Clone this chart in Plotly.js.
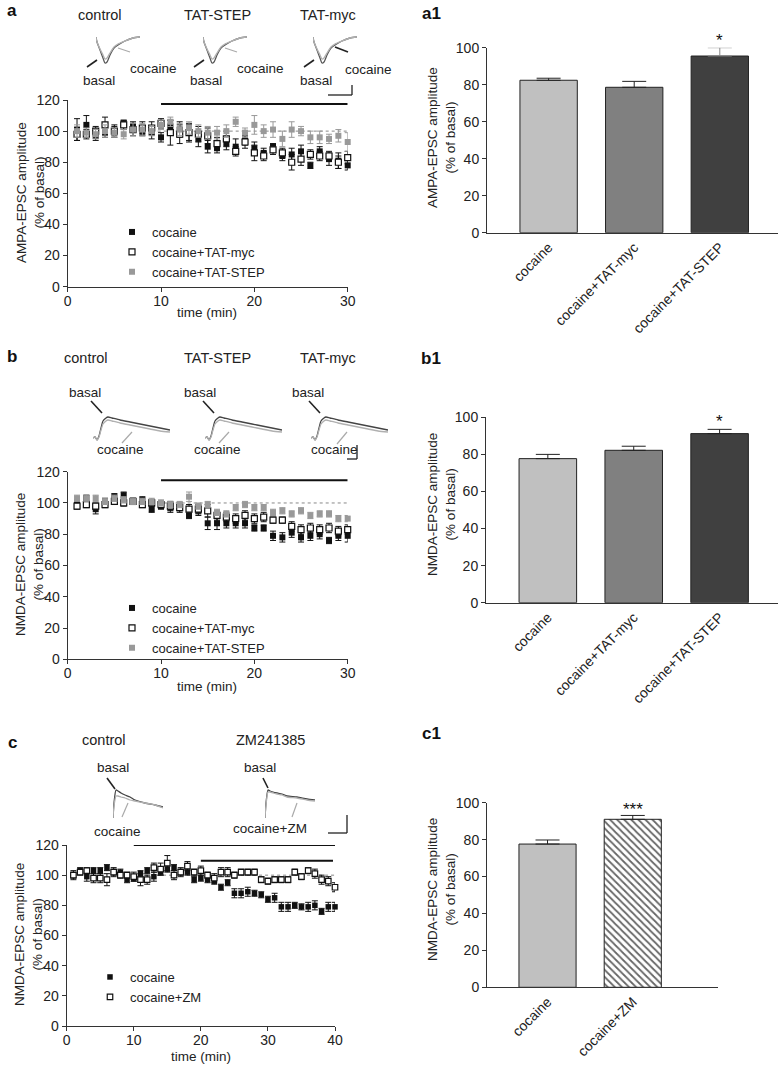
<!DOCTYPE html>
<html><head><meta charset="utf-8">
<script src="https://cdn.plot.ly/plotly-3.0.1.min.js"></script>
<style>html,body{margin:0;padding:0;background:#fff}#chart{width:779px;height:1067px}</style>
</head><body><div id="chart"></div>
<script>
// ---------------- DATA ----------------
const timeAB = [1,2,3,4,5,6,7,8,9,10,11,12,13,14,15,16,17,18,19,20,21,22,23,24,25,26,27,28,29,30];
const timeC = [1,2,3,4,5,6,7,8,9,10,11,12,13,14,15,16,17,18,19,20,21,22,23,24,25,26,27,28,29,30,31,32,33,34,35,36,37,38,39,40];

// panel a : AMPA-EPSC (% of basal)
const aCocaine    = [101,104,97,99,100,105,103,100,99,96, 103,101,99,95,90,89,92,90,94,89, 86,90,84,85,87,78,87,82,81,78];
const aCocaineErr = [7,6,3,3,4,2,3,3,4,3, 4,5,6,5,4,3,4,5,3,4, 3,2,3,4,4,2,3,4,5,3];
const aTatMyc     = [98,98,100,104,100,104,101,102,102,105, 99,98,99,98,97,92,95,87,93,86, 84,88,86,80,82,85,84,84,80,83];
const aTatMycErr  = [4,3,3,5,3,3,4,4,4,3, 8,6,5,5,5,4,5,3,4,5, 3,3,3,5,4,3,3,3,4,4];
const aTatStep    = [100,99,98,100,99,98,101,101,100,104, 106,101,102,100,99,99,100,106,99,104, 100,101,95,101,100,96,96,95,97,93];
const aTatStepErr = [4,3,3,4,3,3,4,4,3,3, 3,4,4,4,4,4,4,3,3,6, 4,5,5,5,3,4,4,3,4,6];

// panel b : NMDA-EPSC (% of basal)
const bCocaine    = [100,103,96,101,104,105,101,102,96,98, 97,97,92,95,87,87,87,87,87,84, 84,79,78,81,78,79,80,76,79,79];
const bCocaineErr = [2,2,3,2,2,2,2,2,2,2, 3,3,2,3,4,4,3,3,3,2, 2,3,3,3,3,3,3,2,3,4];
const bTatMyc     = [98,99,98,99,101,100,101,99,100,99, 98,97,96,96,95,92,91,90,92,90, 91,89,89,85,83,84,83,84,82,83];
const bTatMycErr  = [2,2,2,2,2,2,2,2,2,2, 3,2,3,3,4,3,3,3,3,3, 3,2,2,3,3,3,3,3,3,3];
const bTatStep    = [103,103,103,101,103,102,101,101,101,100, 99,99,104,98,99,94,93,97,99,97, 97,94,95,93,95,92,93,93,90,90];
const bTatStepErr = [2,2,2,2,2,2,2,2,2,2, 2,2,3,2,2,2,2,2,2,2, 2,2,2,2,2,2,2,2,2,2];

// panel c : NMDA-EPSC (% of basal)
const cCocaine    = [100,103,99,103,103,105,102,102,97,98, 101,103,99,102,104,105,102,102,97,98, 97,96,92,95,88,88,89,88,87,84, 85,79,79,80,79,79,80,76,79,79];
const cCocaineErr = [2,2,3,2,2,2,2,2,2,2, 2,2,3,2,2,2,2,2,2,2, 2,2,2,2,3,3,3,2,2,2, 3,3,3,2,2,3,3,2,3,3];
const cZM         = [100,102,103,98,98,97,102,100,100,99, 97,97,105,104,108,100,102,106,102,103, 100,98,102,102,100,102,102,102,97,96, 97,97,97,102,99,103,101,97,96,92];
const cZMErr      = [3,2,2,3,3,4,3,2,2,3, 4,3,3,4,5,3,3,3,2,3, 2,3,3,3,2,2,2,2,2,2, 2,2,2,2,2,2,3,3,3,3];

// drug application periods (min) and baseline
const drugA = [10, 30];
const drugB = [10, 30];
const drugC1 = [10, 40];
const drugC2 = [20, 39.7];
const BASELINE = 100;

// bar charts (mean, s.e.m.)
const barCats3 = ['cocaine', 'cocaine+TAT-myc', 'cocaine+TAT-STEP'];
const a1Mean = [82.4, 78.6, 95.5];
const a1Sem  = [1.1, 3.2, 4.5];
const b1Mean = [77.7, 82.2, 91.2];
const b1Sem  = [2.3, 2.2, 2.3];
const barCats2 = ['cocaine', 'cocaine+ZM'];
const c1Mean = [77.6, 91.0];
const c1Sem  = [2.2, 2.1];

// example traces (ms, pA, arbitrary scale)
const ampaT       = [0, 1, 4, 7, 9, 11, 14, 18, 22, 29, 37, 44];
const ampaBasal   = [0, -5, -13, -21, -26, -25, -18, -11, -8, -4, -1, 0];
const ampaCocaine = [0, -5, -12, -18, -22, -21, -16, -10, -7, -4, -1, 0];
const nmdaT       = [0, 2, 4, 6, 8, 10, 13, 15, 19, 27, 37, 47, 57, 67, 77];
const nmdaBasal   = [0, 1, -2, 2, 10, 17, 20, 21, 20, 18, 16, 14, 12, 10, 8];
const nmdaCocaine = [0, 1, -2, 1, 8, 14, 17, 18, 17, 15, 13, 11, 9, 7, 6];
const nmdaCT       = [0, 1, 3, 5, 8, 12, 17, 22, 32, 42, 50];
const nmdaCBasal   = [0, 15, 28, 27, 25, 23, 21, 18, 15, 13, 11];
const nmdaCCocaine = [0, 12, 22, 22, 21, 20, 18, 17, 15, 13, 10];
const zmBasal      = [0, 15, 28, 27, 26, 25, 24, 22, 21, 19, 18];
const zmCocaine    = [0, 13, 26, 26, 25, 24, 23, 21, 20, 18, 17];

// ---------------- LAYOUT HELPERS ----------------
const W = 779, H = 1067;
const fx = p => p / W;
const fy = p => 1 - p / H;
const FONT = 'Liberation Sans, Arial, Helvetica, sans-serif';
const TXT = '#222';

function realAxis(domain, range, anchor, tickvals, extra) {
  return Object.assign({
    domain, range, anchor, tickvals, showline: true, linecolor: '#333', linewidth: 1,
    ticks: 'outside', ticklen: 4, tickwidth: 1, tickcolor: '#333', showgrid: false, zeroline: false,
    tickfont: {family: FONT, size: 14, color: TXT}, fixedrange: true
  }, extra || {});
}
function insetAxis(domain, range, anchor) {
  return {domain, range, anchor, visible: false, fixedrange: true, showgrid: false, zeroline: false};
}
const xTickExtra = {ticklabelstandoff: -3};
const legendBase = {xanchor: 'left', yanchor: 'top', bgcolor: 'rgba(0,0,0,0)', font: {family: FONT, size: 13, color: TXT}};

const layout = {
  width: W, height: H, margin: {l: 0, r: 0, t: 0, b: 0},
  paper_bgcolor: '#fff', plot_bgcolor: 'rgba(0,0,0,0)',
  font: {family: FONT, size: 13, color: TXT},
  showlegend: true,
  // time courses
  xaxis:  realAxis([fx(67.7), fx(347.7)], [0, 30], 'y',  [0, 10, 20, 30], xTickExtra),
  yaxis:  realAxis([fy(286.7), fy(100)], [0, 120], 'x',  [0, 20, 40, 60, 80, 100, 120]),
  xaxis2: realAxis([fx(67.7), fx(347.7)], [0, 30], 'y2', [0, 10, 20, 30], xTickExtra),
  yaxis2: realAxis([fy(659.3), fy(471.7)], [0, 120], 'x2', [0, 20, 40, 60, 80, 100, 120]),
  xaxis3: realAxis([fx(66.7), fx(335)], [0, 40], 'y3', [0, 10, 20, 30, 40], xTickExtra),
  yaxis3: realAxis([fy(1026), fy(845)], [0, 120], 'x3', [0, 20, 40, 60, 80, 100, 120]),
  // bar charts
  xaxis4: realAxis([fx(487), fx(778)], [-0.72, 2.68], 'y4', undefined, {type: 'category', ticks: '', tickangle: -45}),
  yaxis4: realAxis([fy(232.7), fy(47.7)], [0, 100], 'x4', [0, 20, 40, 60, 80, 100]),
  xaxis5: realAxis([fx(486), fx(778)], [-0.72, 2.68], 'y5', undefined, {type: 'category', ticks: '', tickangle: -45}),
  yaxis5: realAxis([fy(602.7), fy(417.3)], [0, 100], 'x5', [0, 20, 40, 60, 80, 100]),
  xaxis6: realAxis([fx(487), fx(718)], [-0.71, 2.0], 'y6', undefined, {type: 'category', ticks: '', tickangle: -45}),
  yaxis6: realAxis([fy(987.3), fy(802.7)], [0, 100], 'x6', [0, 20, 40, 60, 80, 100]),
  legend:  Object.assign({x: fx(112), y: fy(217)}, legendBase),
  legend2: Object.assign({x: fx(112), y: fy(593)}, legendBase),
  legend3: Object.assign({x: fx(90), y: fy(962)}, legendBase),
  shapes: [], annotations: []
};

// inset axes for example traces
const ampaStarts = [96, 203, 313];
const nmdaStarts = [93, 205, 311];
const cStarts = [113, 265];
let axN = 7;
const insetRefs = {ampa: [], nmda: [], c: []};
ampaStarts.forEach(s => {
  layout['xaxis' + axN] = insetAxis([fx(s), fx(s + 44)], [0, 44], 'y' + axN);
  layout['yaxis' + axN] = insetAxis([fy(65), fy(35)], [-28, 2], 'x' + axN);
  insetRefs.ampa.push(axN); axN++;
});
nmdaStarts.forEach(s => {
  layout['xaxis' + axN] = insetAxis([fx(s), fx(s + 77)], [0, 77], 'y' + axN);
  layout['yaxis' + axN] = insetAxis([fy(441), fy(415)], [-3, 23], 'x' + axN);
  insetRefs.nmda.push(axN); axN++;
});
cStarts.forEach(s => {
  layout['xaxis' + axN] = insetAxis([fx(s), fx(s + 50)], [0, 50], 'y' + axN);
  layout['yaxis' + axN] = insetAxis([fy(819), fy(788)], [-1, 30], 'x' + axN);
  insetRefs.c.push(axN); axN++;
});

// ---------------- TRACES ----------------
const traces = [];
function series(x, y, err, name, xa, ya, legend, kind, size) {
  const col = kind === 'gray' ? '#999' : '#111';
  const marker = kind === 'open'
    ? {symbol: 'square', size: size, color: '#fff', line: {color: '#111', width: 1.2}}
    : {symbol: 'square', size: size, color: col, line: {width: 0}};
  traces.push({
    type: 'scatter', mode: 'markers', x, y, name, xaxis: xa, yaxis: ya, legend,
    marker, cliponaxis: false,
    error_y: {type: 'data', array: err, visible: true, color: kind === 'gray' ? '#999' : '#111', thickness: 1, width: 3}
  });
}
series(timeAB, aCocaine, aCocaineErr, 'cocaine', 'x', 'y', 'legend', 'black', 6);
series(timeAB, aTatMyc, aTatMycErr, 'cocaine+TAT-myc', 'x', 'y', 'legend', 'open', 6);
series(timeAB, aTatStep, aTatStepErr, 'cocaine+TAT-STEP', 'x', 'y', 'legend', 'gray', 6);
series(timeAB, bCocaine, bCocaineErr, 'cocaine', 'x2', 'y2', 'legend2', 'black', 6);
series(timeAB, bTatMyc, bTatMycErr, 'cocaine+TAT-myc', 'x2', 'y2', 'legend2', 'open', 6);
series(timeAB, bTatStep, bTatStepErr, 'cocaine+TAT-STEP', 'x2', 'y2', 'legend2', 'gray', 6);
series(timeC, cCocaine, cCocaineErr, 'cocaine', 'x3', 'y3', 'legend3', 'black', 5.5);
series(timeC, cZM, cZMErr, 'cocaine+ZM', 'x3', 'y3', 'legend3', 'open', 5.5);

// one bar trace per category so each can carry its own fill / pattern
function bars(cats, mean, sem, xa, ya, colors, patterns, errColors) {
  cats.forEach((c, i) => {
    const marker = {color: colors[i], line: {color: '#222', width: 1}};
    if (patterns && patterns[i]) marker.pattern = patterns[i];
    traces.push({
      type: 'bar', x: [c], y: [mean[i]], xaxis: xa, yaxis: ya, width: 0.67, showlegend: false, cliponaxis: false,
      marker,
      error_y: {type: 'data', array: [sem[i]], arrayminus: [0], symmetric: false,
        color: errColors ? errColors[i] : '#222', thickness: 1, width: 12}
    });
  });
}
bars(barCats3, a1Mean, a1Sem, 'x4', 'y4', ['#c0c0c0', '#808080', '#404040'], null, ['#222', '#222', '#888']);
bars(barCats3, b1Mean, b1Sem, 'x5', 'y5', ['#c0c0c0', '#808080', '#404040']);
bars(barCats2, c1Mean, c1Sem, 'x6', 'y6', ['#c0c0c0', '#ffffff'],
  [null, {shape: '\\', fgcolor: '#666', bgcolor: '#ffffff', size: 5, solidity: 0.35, fillmode: 'replace'}]);

function trace(t, v, n, color) {
  traces.push({type: 'scatter', mode: 'lines', x: t, y: v, xaxis: 'x' + n, yaxis: 'y' + n,
    showlegend: false, line: {color, width: 1.3, shape: 'spline', smoothing: 0.6}, cliponaxis: false, hoverinfo: 'skip'});
}
insetRefs.ampa.forEach(n => { trace(ampaT, ampaBasal, n, '#555'); trace(ampaT, ampaCocaine, n, '#b0b0b0'); });
insetRefs.nmda.forEach(n => { trace(nmdaT, nmdaBasal, n, '#444'); trace(nmdaT, nmdaCocaine, n, '#b0b0b0'); });
trace(nmdaCT, nmdaCBasal, insetRefs.c[0], '#444'); trace(nmdaCT, nmdaCCocaine, insetRefs.c[0], '#b0b0b0');
trace(nmdaCT, zmBasal, insetRefs.c[1], '#444'); trace(nmdaCT, zmCocaine, insetRefs.c[1], '#b0b0b0');

// ---------------- SHAPES ----------------
const S = layout.shapes;
function dline(xr, yr, x0, x1, y, opts) {
  S.push(Object.assign({type: 'line', xref: xr, yref: yr, x0, x1, y0: y, y1: y, layer: 'below'}, opts));
}
dline('x', 'y', 9, 32.3, BASELINE, {line: {color: '#888', width: 1, dash: 'dot'}});
dline('x2', 'y2', 9, 30.2, BASELINE, {line: {color: '#888', width: 1, dash: 'dot'}});
dline('x3', 'y3', 9, 41.5, BASELINE, {line: {color: '#888', width: 1, dash: 'dot'}});
dline('x', 'y', drugA[0], drugA[1], 117.5, {line: {color: '#111', width: 2}, layer: 'above'});
dline('x2', 'y2', drugB[0], drugB[1], 114.5, {line: {color: '#111', width: 2}, layer: 'above'});
dline('x3', 'y3', drugC1[0], drugC1[1], 120, {line: {color: '#111', width: 2}, layer: 'above'});
dline('x3', 'y3', drugC2[0], drugC2[1], 109.5, {line: {color: '#111', width: 2}, layer: 'above'});

function pline(x0, y0, x1, y1, color, w) {
  S.push({type: 'line', xref: 'paper', yref: 'paper', x0: fx(x0), y0: fy(y0), x1: fx(x1), y1: fy(y1), line: {color, width: w}});
}
// pointer lines
[[87,67,97,60,'#222',1.6],[118,48,130,52,'#aaa',1.2],
 [194,67,204,60,'#222',1.6],[225,48,237,52,'#aaa',1.2],
 [304,67,314,60,'#222',1.6],[335,47,348,52,'#222',1.6],
 [91,401,102,413,'#222',1.6],[122,443,132,432,'#aaa',1.2],
 [203,401,214,413,'#222',1.6],[219,443,229,432,'#aaa',1.2],
 [309,401,320,413,'#222',1.6],[337,444,347,432,'#aaa',1.2],
 [107,778,115,789,'#222',1.6],[122,817,128,803,'#aaa',1.2],
 [263,778,268,788,'#222',1.6],[292,817,297,803,'#aaa',1.2]
].forEach(p => pline(...p));
// scale bars
[[352,85,352,95],[328,95,352,95],[357,445,357,459],[347,459,357,459],[347,815,347,833],[328,833,347,833]]
  .forEach(p => pline(p[0], p[1], p[2], p[3], '#222', 1.3));

// ---------------- ANNOTATIONS ----------------
const A = layout.annotations;
function ann(text, x, y, opts) {
  A.push(Object.assign({xref: 'paper', yref: 'paper', x: fx(x), y: fy(y), text, showarrow: false,
    xanchor: 'center', yanchor: 'middle', font: {family: FONT, size: 13, color: TXT}}, opts || {}));
}
const bold = {font: {family: FONT, size: 17, color: '#111', weight: 'bold'}};
ann('<b>a</b>', 12, 11, bold); ann('<b>a1</b>', 431, 13, bold);
ann('<b>b</b>', 12, 356, bold); ann('<b>b1</b>', 431, 358, bold);
ann('<b>c</b>', 12, 742, bold); ann('<b>c1</b>', 431, 733, bold);
const t14 = {font: {family: FONT, size: 14.5, color: TXT}};
ann('control', 100, 15, t14); ann('TAT-STEP', 217, 15, t14); ann('TAT-myc', 328, 15, t14);
ann('control', 86, 358, t14); ann('TAT-STEP', 217, 358, t14); ann('TAT-myc', 328, 358, t14);
ann('control', 104, 740, t14); ann('ZM241385', 270, 740, t14);
const t135 = {font: {family: FONT, size: 13.5, color: TXT}};
ann('basal', 99, 80, t135); ann('cocaine', 153, 69, t135); ann('basal', 206, 80, t135); ann('cocaine', 260, 69, t135);
ann('basal', 316, 80, t135); ann('cocaine', 368, 70, t135);
ann('basal', 85, 393, t135); ann('basal', 200, 393, t135); ann('basal', 308, 393, t135);
ann('cocaine', 120, 450, t135); ann('cocaine', 217, 450, t135); ann('cocaine', 334, 450, t135);
ann('basal', 113, 767, t135); ann('basal', 260, 767, t135); ann('cocaine', 117, 831, t135); ann('cocaine+ZM', 270, 828, t135);
ann('time (min)', 207, 312, t135); ann('time (min)', 207, 686, t135); ann('time (min)', 201, 1056, t135);
const rot = {textangle: -90, font: {family: FONT, size: 13.5, color: TXT}};
ann('AMPA-EPSC amplitude<br>(% of basal)', 31, 193, rot);
ann('NMDA-EPSC amplitude<br>(% of basal)', 29, 565, rot);
ann('NMDA-EPSC amplitude<br>(% of basal)', 28, 935, rot);
ann('AMPA-EPSC amplitude<br>(% of basal)', 441, 138, rot);
ann('NMDA-EPSC amplitude<br>(% of basal)', 441, 505, rot);
ann('NMDA-EPSC amplitude<br>(% of basal)', 441, 890, rot);
// significance marks (y given as fraction of the 0-100 axis so they may sit above its top)
const star = {showarrow: false, xanchor: 'center', yanchor: 'middle', font: {family: FONT, size: 17, color: '#111'}};
A.push(Object.assign({xref: 'x4', yref: 'y4 domain', x: barCats3[2], y: (a1Mean[2] + a1Sem[2] + 4) / 100, text: '*'}, star));
A.push(Object.assign({xref: 'x5', yref: 'y5 domain', x: barCats3[2], y: (b1Mean[2] + b1Sem[2] + 4.5) / 100, text: '*'}, star));
A.push(Object.assign({xref: 'x6', yref: 'y6 domain', x: barCats2[1], y: (c1Mean[1] + c1Sem[1] + 3) / 100, text: '***'}, star));

Plotly.newPlot('chart', traces, layout, {displayModeBar: false, staticPlot: true});
</script></body></html>
